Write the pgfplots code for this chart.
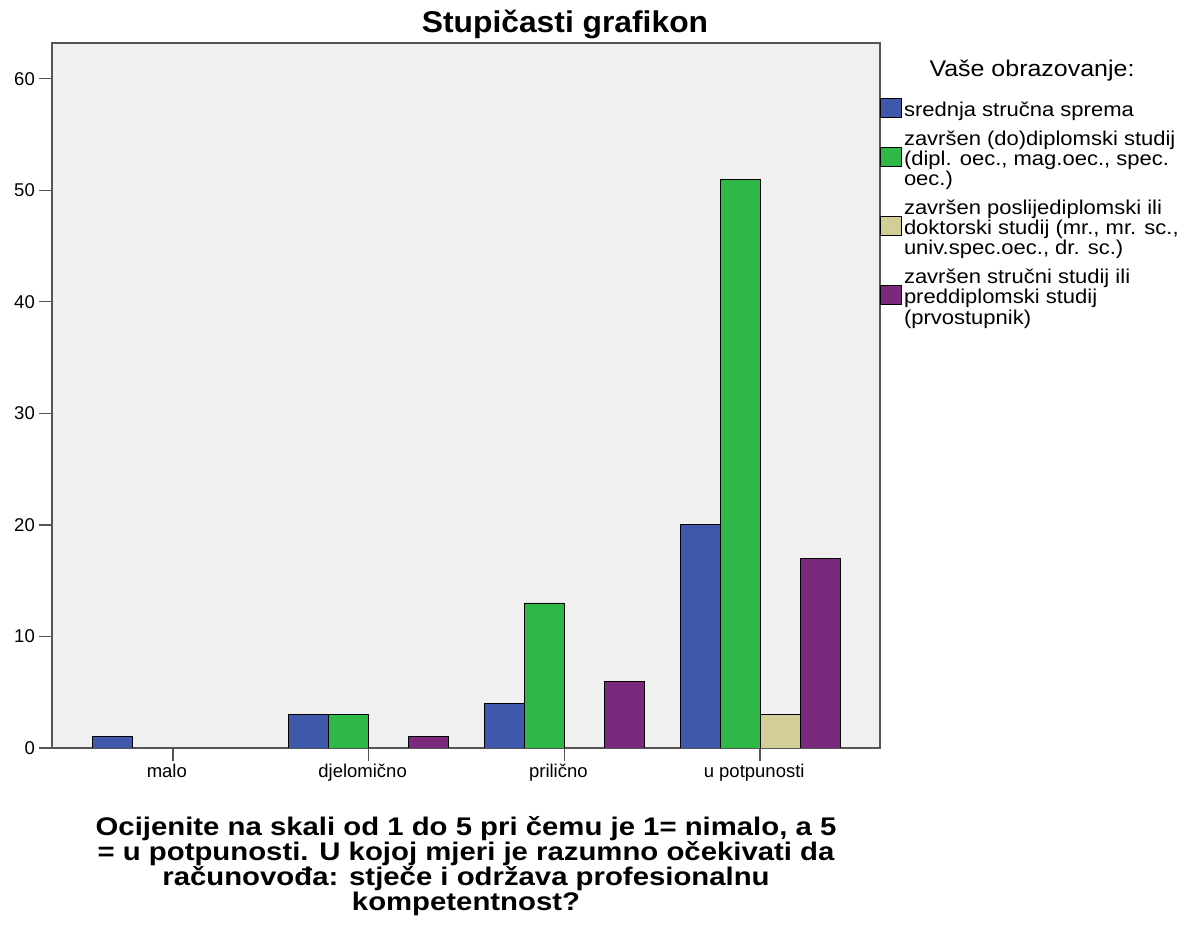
\documentclass[border=0pt]{standalone}
\usepackage{pgfplots}
\pgfplotsset{compat=1.18}
\usepackage{fontspec}
\setmainfont{Liberation Sans}
\newfontfamily\legfont{Liberation Sans}[FakeStretch=1.1]
\newfontfamily\xlabfont{Liberation Sans}[FakeStretch=1.15]
\newfontfamily\titfont{Liberation Sans}[FakeStretch=1.06]
\definecolor{bgc}{HTML}{F0F0F0}
\definecolor{framec}{HTML}{555555}
\definecolor{cA}{HTML}{3E58AC}
\definecolor{cB}{HTML}{2EB848}
\definecolor{cC}{HTML}{D3CE97}
\definecolor{cD}{HTML}{7A297D}
\newcommand\gap{\rule{0pt}{22.5pt}}
\begin{document}
\begin{tikzpicture}
\useasboundingbox (0pt,0pt) rectangle (1189pt,924pt);
\begin{axis}[
  at={(52pt,176pt)}, anchor=south west,
  scale only axis, width=828pt, height=705pt,
  xmin=-0.617, xmax=3.612, ymin=0, ymax=63.2,
  axis background/.style={fill=bgc},
  axis line style={draw=framec, line width=1.6pt},
  xtick={0,1,2,3},
  xticklabels={malo,djelomično,prilično,u potpunosti},
  ytick={0,10,20,30,40,50,60},
  xtick pos=bottom, ytick pos=left,
  tick align=outside, major tick length=13pt,
  tick style={draw=framec, line width=1.4pt},
  /pgf/number format/assume math mode=true,
  ticklabel style={font=\fontsize{18.5}{20}\selectfont, text=black},
  yticklabel style={inner sep=4pt},
  xticklabel style={inner sep=3pt, xshift=-6pt},
  ybar, bar width=40pt,
  legend image code/.code={\draw[#1, line width=0.9pt, overlay] (0pt,-4.8pt) rectangle (21pt,14.2pt); \path[draw=none, fill=none] (0pt,0pt) -- (21pt,0pt);},
  legend cell align=left,
  legend style={at={(axis description cs:1.0,0.9158)}, anchor=north west,
    draw=none, fill=none, inner sep=0pt, outer sep=0pt, row sep=0pt, column sep=3pt,
    nodes={inner sep=0pt, text depth={}},
    font=\legfont\fontsize{20}{19.5}\selectfont},
]
\addplot[ybar, forget plot, bar shift=-60pt, fill=cA, draw=black, line width=0.9pt] coordinates {(0,1) (1,3) (2,4) (3,20)};
\addplot[ybar, forget plot, bar shift=-20pt, fill=cB, draw=black, line width=0.9pt] coordinates {(1,3) (2,13) (3,51)};
\addplot[ybar, forget plot, bar shift=20pt, fill=cC, draw=black, line width=0.9pt] coordinates {(3,3)};
\addplot[ybar, forget plot, bar shift=60pt, fill=cD, draw=black, line width=0.9pt] coordinates {(1,1) (2,6) (3,17)};
\addlegendimage{fill=cA, draw=black}
\addlegendentry{\strut srednja stručna sprema}
\addlegendimage{empty legend}
\addlegendentry{\gap\strut završen (do)diplomski studij}
\addlegendimage{fill=cB, draw=black}
\addlegendentry{{\strut(dipl. oec., mag.oec., spec.}}
\addlegendimage{empty legend}
\addlegendentry{\strut oec.)}
\addlegendimage{empty legend}
\addlegendentry{\gap\strut završen poslijediplomski ili}
\addlegendimage{fill=cC, draw=black}
\addlegendentry{{\strut doktorski studij (mr., mr. sc.,}}
\addlegendimage{empty legend}
\addlegendentry{{\strut univ.spec.oec., dr. sc.)}}
\addlegendimage{empty legend}
\addlegendentry{\gap\strut završen stručni studij ili}
\addlegendimage{fill=cD, draw=black}
\addlegendentry{\strut preddiplomski studij}
\addlegendimage{empty legend}
\addlegendentry{\strut (prvostupnik)}
\end{axis}
\node[anchor=base, inner sep=0pt, font=\titfont\bfseries\fontsize{30}{32}\selectfont] at (565pt,891pt) {Stupičasti grafikon};
\node[anchor=base, inner sep=0pt, font=\legfont\fontsize{22.7}{22}\selectfont] at (1032pt,847pt) {Vaše obrazovanje:};
\node[anchor=north, inner sep=0pt, align=center, font=\xlabfont\bfseries\fontsize{25.5}{23.5}\selectfont] at (466pt,108pt)
  {Ocijenite na skali od 1 do 5 pri čemu je 1= nimalo, a 5\\= u potpunosti. U kojoj mjeri je razumno očekivati da\\računovođa: stječe i održava profesionalnu\\kompetentnost?};
\end{tikzpicture}
\end{document}
